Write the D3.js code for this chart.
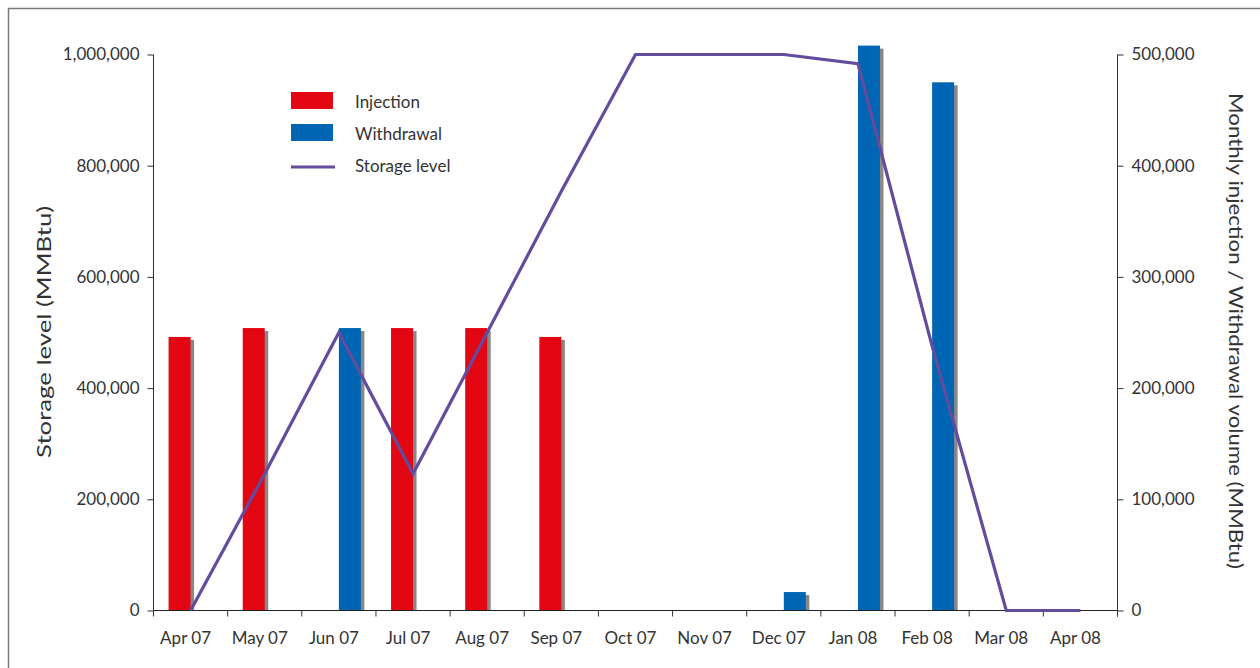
<!DOCTYPE html>
<html>
<head>
<meta charset="utf-8">
<script src="https://cdn.jsdelivr.net/npm/d3@7"></script>
<style>
  body { margin: 0; background: #fff; }
  svg text { font-family: Lato, "Open Sans", sans-serif; fill: #333; }
</style>
</head>
<body>
<div id="chart"></div>
<script>
// data
months = ["Apr 07", "May 07", "Jun 07", "Jul 07", "Aug 07", "Sep 07", "Oct 07",
          "Nov 07", "Dec 07", "Jan 08", "Feb 08", "Mar 08", "Apr 08"];
injection = [246000, 254000, 0, 254000, 254000, 246000, 0, 0, 0, 0, 0, 0, 0];
withdrawal = [0, 0, 254000, 0, 0, 0, 0, 0, 16600, 508000, 475000, 0, 0];
storage = [0, 246000, 500000, 246000, 500000, 754000, 1000000, 1000000, 1000000,
           983400, 475400, 0, 0];
leftTicks = [0, 200000, 400000, 600000, 800000, 1000000];
rightTicks = [0, 100000, 200000, 300000, 400000, 500000];

let width = 1260, height = 668;
let barW = 22;

let svg = d3.select("#chart").append("svg")
  .attr("width", width)
  .attr("height", height);

// outer frame
svg.append("rect")
  .attr("x", 8.5).attr("y", 8.5)
  .attr("width", 1400).attr("height", 800)
  .attr("fill", "none")
  .attr("stroke", "#7a7a7a")
  .attr("stroke-width", 1.5);

let x = d3.scaleBand()
  .domain(months)
  .range([153.5, 1117.5]);

let yLeft = d3.scaleLinear()
  .domain([0, 1000000])
  .range([610.5, 54.5]);

let yRight = d3.scaleLinear()
  .domain([0, 500000])
  .range([610.5, 54.5]);

let rows = months.map(function(m, i) {
  return { month: m, inj: injection[i], wd: withdrawal[i], level: storage[i] };
});

let center = d => x(d) + x.bandwidth() / 2;

// bars: injection left of centre, withdrawal right, each with grey shadow
let bars = [];
rows.forEach(function(d) {
  if (d.inj > 0) bars.push({ month: d.month, v: d.inj, side: -1, color: "#e30613" });
  if (d.wd > 0) bars.push({ month: d.month, v: d.wd, side: 0, color: "#0066b3" });
});

let barX = d => center(d.month) + d.side * barW;

svg.append("g").selectAll("rect")
  .data(bars)
  .enter().append("rect")
  .attr("x", d => barX(d) + 3.5)
  .attr("y", d => yRight(d.v) + 3)
  .attr("width", barW)
  .attr("height", d => yRight(0) - yRight(d.v) - 3)
  .attr("fill", "#8b8688");

svg.append("g").selectAll("rect")
  .data(bars)
  .enter().append("rect")
  .attr("x", d => barX(d))
  .attr("y", d => yRight(d.v))
  .attr("width", barW)
  .attr("height", d => yRight(0) - yRight(d.v))
  .attr("fill", d => d.color);

// left axis
let leftAxis = d3.axisLeft(yLeft)
  .tickValues(leftTicks)
  .tickFormat(d3.format(","))
  .tickSize(6)
  .tickSizeOuter(0)
  .tickPadding(8);

let gl = svg.append("g")
  .attr("transform", "translate(153.5,0)")
  .call(leftAxis);
gl.select(".domain").attr("stroke", "#333").attr("d", "M0,54.5V616.5");
gl.selectAll(".tick line").attr("stroke", "#333");
gl.selectAll("text").style("font-size", "17px").attr("fill", "#333");

// right axis
let rightAxis = d3.axisRight(yRight)
  .tickValues(rightTicks)
  .tickFormat(d3.format(","))
  .tickSize(6)
  .tickSizeOuter(0)
  .tickPadding(8);

let gr = svg.append("g")
  .attr("transform", "translate(1117.5,0)")
  .call(rightAxis);
gr.select(".domain").attr("stroke", "#333").attr("d", "M0,54.5V616.5");
gr.selectAll(".tick line").attr("stroke", "#333");
gr.selectAll("text").style("font-size", "17px").attr("fill", "#333");

// bottom axis: labels centred in bands, ticks at band edges
let bottomAxis = d3.axisBottom(x).tickSize(0).tickPadding(21);
let gb = svg.append("g")
  .attr("transform", "translate(0,610.5)")
  .call(bottomAxis);
gb.select(".domain").attr("stroke", "#222").attr("d", "M153.5,0H1117.5");
gb.selectAll("text").style("font-size", "17px").attr("fill", "#333").attr("dx", -5);

gb.selectAll(".edge")
  .data(months.slice(1).concat(["end"]))
  .enter().append("line")
  .attr("class", "edge")
  .attr("x1", d => d === "end" ? x.range()[1] : x(d))
  .attr("x2", d => d === "end" ? x.range()[1] : x(d))
  .attr("y1", 0)
  .attr("y2", 6)
  .attr("stroke", "#333");

// storage line, drawn over the axes
let line = d3.line()
  .x(d => center(d.month))
  .y(d => yLeft(d.level));

svg.append("path")
  .datum(rows)
  .attr("d", line)
  .attr("fill", "none")
  .attr("stroke", "#634b9e")
  .attr("stroke-width", 3.2)
  .attr("stroke-linejoin", "miter");

// axis titles
svg.append("text")
  .attr("transform", "translate(51,332) rotate(-90)")
  .attr("text-anchor", "middle")
  .attr("textLength", 252)
  .attr("lengthAdjust", "spacingAndGlyphs")
  .style("font-size", "19px")
  .text("Storage level (MMBtu)");

svg.append("text")
  .attr("transform", "translate(1229,331) rotate(90)")
  .attr("text-anchor", "middle")
  .attr("textLength", 476)
  .attr("lengthAdjust", "spacingAndGlyphs")
  .style("font-size", "19px")
  .text("Monthly injection / Withdrawal volume (MMBtu)");

// legend
let legendItems = [
  { name: "Injection", type: "rect", color: "#e30613" },
  { name: "Withdrawal", type: "rect", color: "#0066b3" },
  { name: "Storage level", type: "line", color: "#634b9e" }
];

let legend = svg.selectAll(".legend")
  .data(legendItems)
  .enter().append("g")
  .attr("class", "legend")
  .attr("transform", (d, i) => "translate(291," + (92 + i * 32) + ")");

legend.filter(d => d.type === "rect").append("rect")
  .attr("width", 42)
  .attr("height", 17)
  .attr("fill", d => d.color);

legend.filter(d => d.type === "line").append("line")
  .attr("x1", 0).attr("x2", 44)
  .attr("y1", 11).attr("y2", 11)
  .attr("stroke", d => d.color)
  .attr("stroke-width", 3);

legend.append("text")
  .attr("x", 64)
  .attr("y", 16)
  .style("font-size", "17px")
  .text(d => d.name);
</script>
</body>
</html>
